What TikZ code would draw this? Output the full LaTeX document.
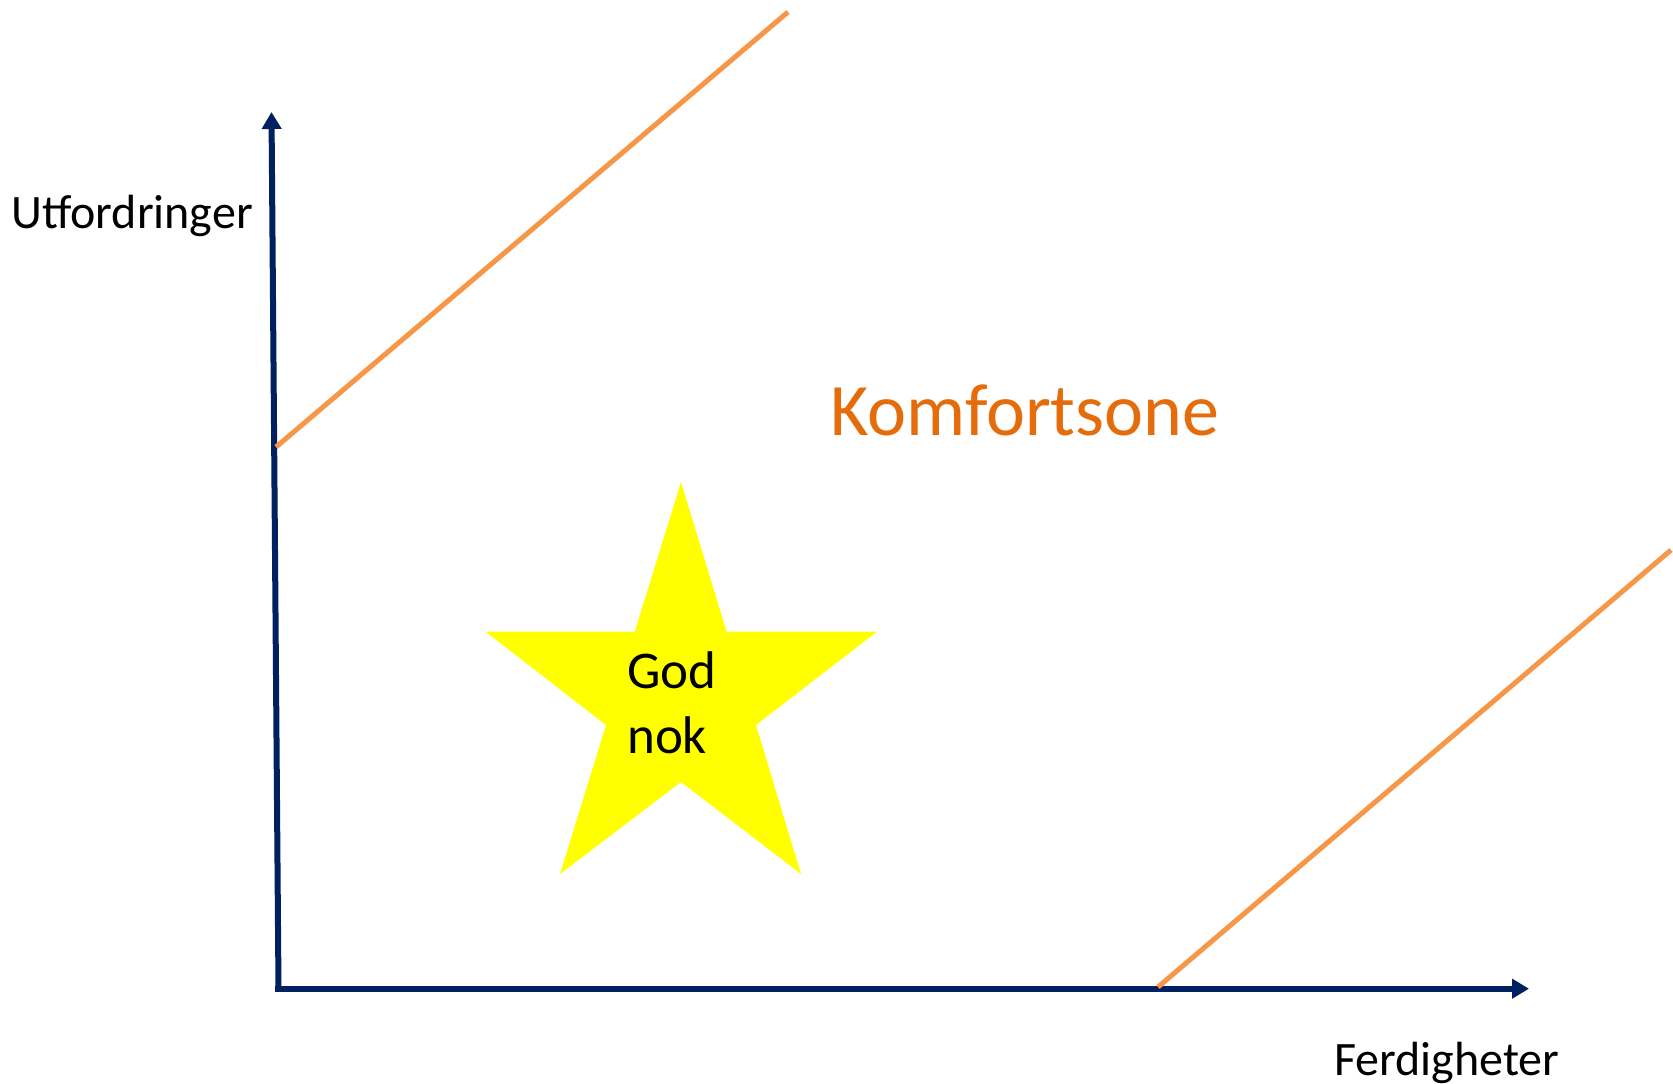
\documentclass[tikz,border=0pt]{standalone}
\usepackage{fontspec}
\setmainfont{Carlito}
\usetikzlibrary{arrows.meta}
\definecolor{AxisNavy}{HTML}{002060}
\definecolor{ZoneLine}{HTML}{F79646}
\definecolor{ZoneText}{HTML}{E46C0A}
\definecolor{StarFill}{HTML}{FFFF00}

\begin{document}
\begin{tikzpicture}[
      x=1pt, y=-1pt,
      axis/.style={draw=AxisNavy, line width=6pt, -{Triangle[length=17pt, width=19pt]}},
      zoneline/.style={draw=ZoneLine, line width=5pt},
      lbl/.style={font=\fontsize{48}{58}\selectfont, anchor=base west, inner sep=0pt},
      zonelbl/.style={font=\fontsize{74}{88}\selectfont, text=ZoneText, anchor=base west, inner sep=0pt},
      starlbl/.style={font=\fontsize{53}{65}\selectfont, align=left, anchor=north west, inner sep=0pt}
    ]
    \useasboundingbox (0,0) rectangle (1673,1084);

    % axes
    \coordinate (origin) at (278.5,988.7);
    \coordinate (ytop)   at (271.5,112);
    \coordinate (xend)   at (1529,988.7);
    \draw[axis] (275,988.7) -- (xend);
    \draw[axis] (origin) -- (ytop);

    % comfort zone borders
    \coordinate (upA) at (276,447);
    \coordinate (upB) at (788,12);
    \coordinate (loA) at (1158,987);
    \coordinate (loB) at (1671,550);
    \draw[zoneline] (upA) -- (upB);
    \draw[zoneline] (loA) -- (loB);

    % star
    \fill[StarFill] (681,482) -- (726.6,631.6) -- (877,631.6) -- (756,725)
      -- (801,874) -- (681,782) -- (560,874) -- (606,725)
      -- (485.5,631.6) -- (634.8,631.6) -- cycle;

    % labels
    \node[lbl] (ylab) at (11,228) {Utfordringer};
    \node[lbl] (xlab) at (1334,1075) {Ferdigheter};
    \node[zonelbl] (zone) at (830,435) {Komfortsone};
    \node[starlbl] (good) at (627,651) {God\\nok};
\end{tikzpicture}
\end{document}
